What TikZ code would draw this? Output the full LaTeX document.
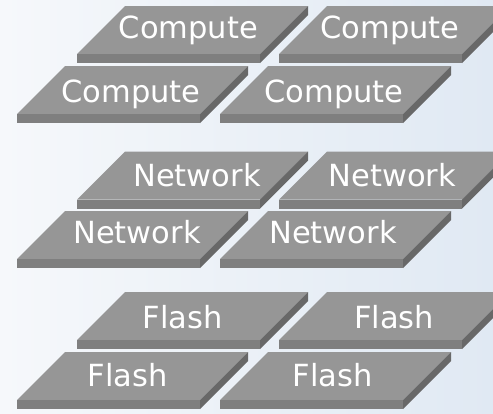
\documentclass[tikz,border=0pt]{standalone}
\usepackage{fontspec}
\setmainfont{DejaVu Sans}
\definecolor{slabtop}{RGB}{150,150,150}
\definecolor{slabfront}{RGB}{127,127,127}
\definecolor{slabside}{RGB}{104,104,104}
\definecolor{bgleft}{RGB}{246,248,251}
\definecolor{bgright}{RGB}{224,233,243}
\tikzset{
  slablabel/.style={text=white, anchor=base, inner sep=0pt,
    font=\fontsize{30.5}{36}\selectfont},
}
% \slab{x of front-left corner}{y of front edge}
\newcommand\slab[2]{%
  \fill[slabtop] (#1,#2) -- ++(183,0) -- ++(48,-48) -- ++(-183,0) -- cycle;
  \fill[slabfront] (#1,#2) rectangle ++(183,9);
  \fill[slabside] (#1+183,#2) -- ++(48,-48) -- ++(0,9) -- ++(-48,48) -- cycle;
}
\begin{document}
\begin{tikzpicture}[x=1pt,y=-1pt]
  \useasboundingbox (0,0) rectangle (493,413);
  \shade[left color=bgleft, right color=bgright] (0,0) rectangle (493,413);
  \clip (0,0) rectangle (493,413);

  % Compute layer
  \slab{77}{54}   \slab{279}{54}
  \slab{17}{114}  \slab{220}{114}
  \node[slablabel] (c1) at (188.5,38)  {Compute};
  \node[slablabel] (c2) at (390,38)    {Compute};
  \node[slablabel] (c3) at (131,102)   {Compute};
  \node[slablabel] (c4) at (334,102)   {Compute};

  % Network layer
  \slab{77}{199.5} \slab{279}{199.5}
  \slab{17}{259}   \slab{220}{259}
  \node[slablabel] (n1) at (197,186.7)   {Network};
  \node[slablabel] (n2) at (392.5,186.7) {Network};
  \node[slablabel] (n3) at (137,243.3)   {Network};
  \node[slablabel] (n4) at (333,243.3)   {Network};

  % Flash layer
  \slab{77}{340}  \slab{279}{340}
  \slab{17}{400}  \slab{220}{400}
  \node[slablabel] (f1) at (182.5,328.3) {Flash};
  \node[slablabel] (f2) at (394,328.3)   {Flash};
  \node[slablabel] (f3) at (127.5,386.7) {Flash};
  \node[slablabel] (f4) at (332.5,386.7) {Flash};
\end{tikzpicture}
\end{document}
